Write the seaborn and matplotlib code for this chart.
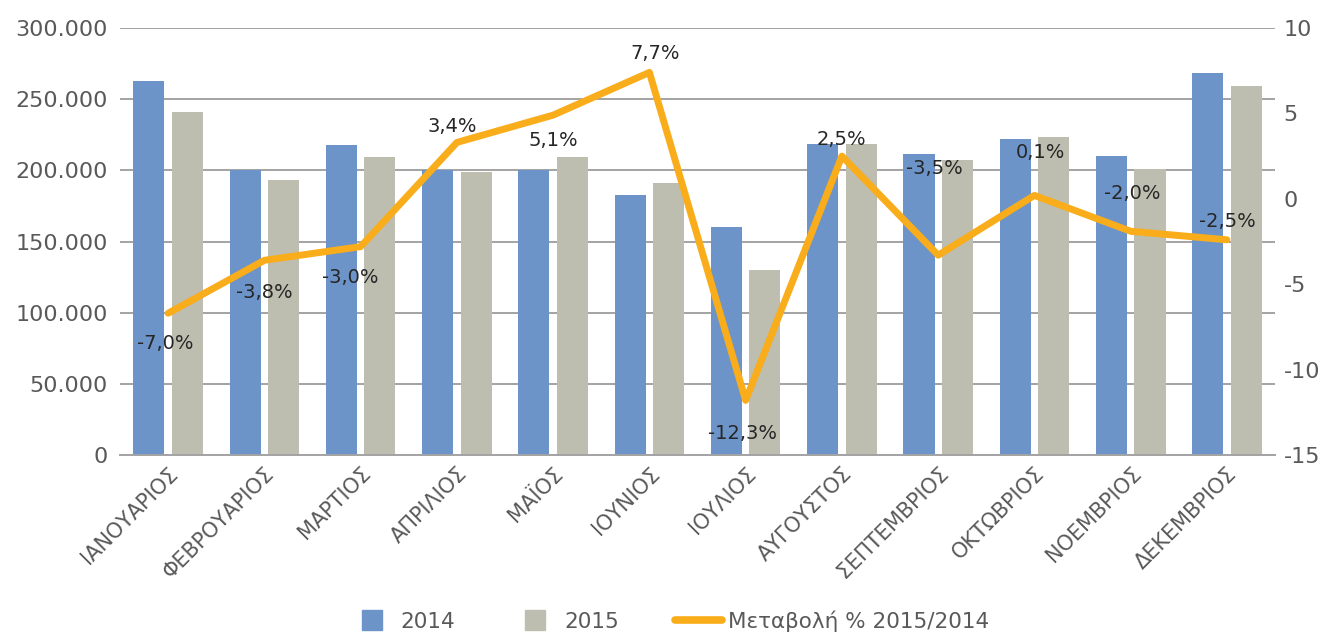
import numpy as np
import pandas as pd
import seaborn as sns
import matplotlib.pyplot as plt
from matplotlib.lines import Line2D
from matplotlib.ticker import FuncFormatter

months = ["ΙΑΝΟΥΑΡΙΟΣ", "ΦΕΒΡΟΥΑΡΙΟΣ", "ΜΑΡΤΙΟΣ", "ΑΠΡΙΛΙΟΣ", "ΜΑΪΟΣ", "ΙΟΥΝΙΟΣ",
          "ΙΟΥΛΙΟΣ", "ΑΥΓΟΥΣΤΟΣ", "ΣΕΠΤΕΜΒΡΙΟΣ", "ΟΚΤΩΒΡΙΟΣ", "ΝΟΕΜΒΡΙΟΣ", "ΔΕΚΕΜΒΡΙΟΣ"]
v2014 = [263000, 200000, 218000, 200000, 200000, 182700,
         160200, 218500, 211500, 222000, 210100, 268400]
v2015 = [240800, 193200, 209400, 199000, 209400, 191100,
         130000, 218500, 207300, 223400, 200700, 259300]
# % change as drawn by the line, and the labels printed next to it
change = [-6.7, -3.6, -2.8, 3.3, 4.9, 7.4, -11.8, 2.5, -3.3, 0.2, -1.9, -2.4]
change_labels = ["-7,0%", "-3,8%", "-3,0%", "3,4%", "5,1%", "7,7%",
                 "-12,3%", "2,5%", "-3,5%", "0,1%", "-2,0%", "-2,5%"]
series_names = ["2014", "2015"]
line_name = "Μεταβολή % 2015/2014"

# label placement (pixels from the point)
label_dx = [-3, 0, -10, -5, 0, 6, -3, 0, -4, 6, 2, 0]
label_dy = [-30, -32, -31, 16, -25, 19, -33, 17, 87, 43, 38, 18]

blue = "#6d94c8"
grey = "#bdbdb0"
orange = "#f9ad1b"
text_grey = "#595959"

sns.set_style("white")
plt.rcParams["font.family"] = ["DejaVu Sans"]
plt.rcParams["axes.unicode_minus"] = False

df = pd.DataFrame({
    "month": months * 2,
    "value": v2014 + v2015,
    "year": [series_names[0]] * 12 + [series_names[1]] * 12,
})

fig = plt.figure(figsize=(13.29, 6.32), dpi=100)
ax = fig.add_axes([0.0903, 0.280, 0.8691, 0.6757])

sns.barplot(data=df, x="month", y="value", hue="year", order=months,
            palette=[blue, grey], saturation=1, width=0.80, gap=0.19,
            edgecolor="none", legend=False, ax=ax)
ax.set_xlim(-0.5, 11.5)
ax.set_ylim(0, 300000)
ax.set_yticks(np.arange(0, 300001, 50000))
ax.yaxis.set_major_formatter(FuncFormatter(lambda v, p: f"{int(v):,}".replace(",", ".")))
ax.set_axisbelow(True)
ax.yaxis.grid(True, color="#a3a3a3", lw=1.4)
ax.set_xlabel("")
ax.set_ylabel("")
sns.despine(ax=ax, left=True, right=True, top=True)
ax.spines["bottom"].set_color("#a3a3a3")
ax.spines["bottom"].set_linewidth(1.4)
ax.tick_params(axis="y", length=0, pad=9, labelsize=16, labelcolor=text_grey)
ax.tick_params(axis="x", length=0, pad=6, labelsize=15, labelcolor=text_grey)
plt.setp(ax.get_xticklabels(), rotation=45, ha="right", rotation_mode="anchor")

ax2 = ax.twinx()
sns.lineplot(x=np.arange(len(months)), y=change, ax=ax2, color=orange, lw=5,
             solid_capstyle="round", solid_joinstyle="round")
ax2.set_xlim(-0.5, 11.5)
ax2.set_ylim(-15, 10)
ax2.set_yticks([-15, -10, -5, 0, 5, 10])
ax2.set_ylabel("")
sns.despine(ax=ax2, left=True, right=True, top=True, bottom=True)
ax2.tick_params(axis="y", length=0, pad=6, labelsize=16, labelcolor=text_grey)

for i, lbl in enumerate(change_labels):
    ax2.annotate(lbl, (i, change[i]), xytext=(label_dx[i], label_dy[i]),
                 textcoords="offset pixels", ha="center", va="center",
                 fontsize=14, color="#262626")

handles = [
    Line2D([], [], marker="s", ls="none", markersize=14, mfc=blue, mec=blue),
    Line2D([], [], marker="s", ls="none", markersize=14, mfc=grey, mec=grey),
    Line2D([], [], color=orange, lw=5.5, solid_capstyle="round"),
]
fig.legend(handles, series_names + [line_name], loc="lower center",
           bbox_to_anchor=(0.503, -0.03), ncol=3, frameon=False, fontsize=15.5,
           labelcolor=text_grey, handlelength=2.2, handletextpad=0.25,
           columnspacing=2.6)

fig.savefig("out.png", dpi=100)
